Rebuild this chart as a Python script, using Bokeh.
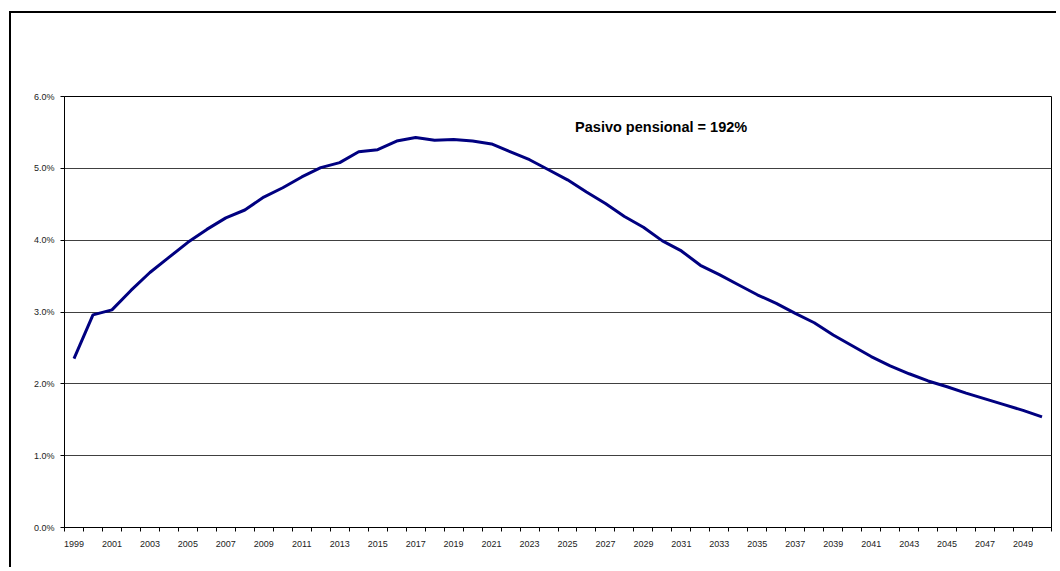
from bokeh.plotting import figure
from bokeh.models import FixedTicker, NumeralTickFormatter, Label, ColumnDataSource
from bokeh.embed import file_html
from bokeh.resources import INLINE

years = list(range(1999, 2051))
values_pct = [2.35, 2.96, 3.03, 3.30, 3.55, 3.76, 3.97, 4.15, 4.31, 4.42,
              4.60, 4.73, 4.88, 5.01, 5.08, 5.23, 5.26, 5.38, 5.43, 5.39,
              5.40, 5.38, 5.34, 5.23, 5.12, 4.98, 4.84, 4.67, 4.51, 4.33,
              4.18, 3.99, 3.85, 3.65, 3.52, 3.38, 3.24, 3.12, 2.98, 2.85,
              2.68, 2.53, 2.38, 2.25, 2.14, 2.04, 1.96, 1.87, 1.79, 1.71,
              1.63, 1.54]
y_ticks = [0.0, 0.01, 0.02, 0.03, 0.04, 0.05, 0.06]
x_label_years = list(range(1999, 2051, 2))
annotation = "Pasivo pensional = 192%"

values = [v / 100.0 for v in values_pct]
src = ColumnDataSource(dict(year=years, value=values))

p = figure(width=1047, height=556, output_backend="svg", toolbar_location=None,
           x_range=(1998.5, 2050.5), y_range=(0.0, 0.06),
           min_border_left=53, min_border_top=83, min_border_right=7, min_border_bottom=42,
           background_fill_color="white", border_fill_color="white",
           outline_line_color="#000000", outline_line_width=1)
p.styles = {"border-left": "2px solid black", "border-top": "2px solid black",
            "margin-left": "9px", "margin-top": "11px"}

p.line("year", "value", source=src, line_color="#000080", line_width=3)

# grid
p.xgrid.visible = False
p.ygrid.ticker = FixedTicker(ticks=y_ticks)
p.ygrid.grid_line_color = "#404040"
p.ygrid.grid_line_width = 1

# y axis
p.yaxis.ticker = FixedTicker(ticks=y_ticks, minor_ticks=[])
p.yaxis.formatter = NumeralTickFormatter(format="0.0%")
p.yaxis.major_tick_out = 4
p.yaxis.major_tick_in = 0
p.yaxis.minor_tick_out = 0
p.yaxis.minor_tick_in = 0
p.yaxis.axis_line_color = "black"
p.yaxis.major_label_text_font = "Liberation Sans"
p.yaxis.major_label_text_font_size = "9px"
p.yaxis.major_label_text_color = "#222222"
p.yaxis.major_label_standoff = 6

# x axis: labels at category centres, ticks at category boundaries
bounds = [y - 0.5 for y in years] + [years[-1] + 0.5]
p.xaxis.ticker = FixedTicker(ticks=x_label_years, minor_ticks=bounds)
p.xaxis.major_tick_out = 0
p.xaxis.major_tick_in = 0
p.xaxis.minor_tick_out = 4
p.xaxis.minor_tick_in = 0
p.xaxis.axis_line_color = "black"
p.xaxis.major_label_text_font = "Liberation Sans"
p.xaxis.major_label_text_font_size = "9px"
p.xaxis.major_label_text_color = "#222222"
p.xaxis.major_label_standoff = 9

lab = Label(x=2025.4, y=0.0557, text=annotation, text_font="Liberation Sans",
            text_font_size="14.5px", text_font_style="bold", text_color="black",
            text_baseline="middle", text_align="left")
p.add_layout(lab)

open("out.html", "w").write(file_html(p, INLINE))
